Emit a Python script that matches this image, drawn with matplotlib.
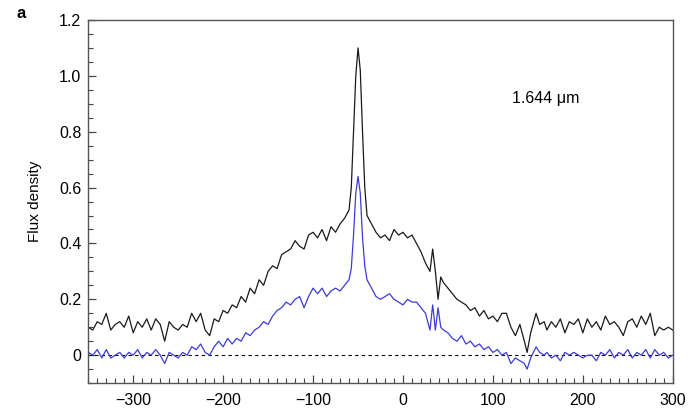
import numpy as np
import matplotlib.pyplot as plt
from matplotlib.ticker import MultipleLocator

plt.rcParams['font.family'] = ['Liberation Sans', 'DejaVu Sans']
plt.rcParams['axes.unicode_minus'] = True

# velocity grid (km/s), finer sampling across the narrow core
velocity = [
    -350, -345, -340, -335, -330, -325, -320, -315, -310, -305,
    -300, -295, -290, -285, -280, -275, -270, -265, -260, -255,
    -250, -245, -240, -235, -230, -225, -220, -215, -210, -205,
    -200, -195, -190, -185, -180, -175, -170, -165, -160, -155,
    -150, -145, -140, -135, -130, -125, -120, -115, -110, -105,
    -100, -95, -90, -85, -80, -75, -70, -65, -60,
    -57.5, -55, -52.5, -50, -47.5, -45, -42.5,
    -40, -35, -30, -25, -20, -15, -10, -5, 0, 5, 10, 15, 20, 25, 30,
    33, 36, 39, 42,
    45, 50, 55, 60, 65, 70, 75, 80, 85, 90, 95, 100, 105, 110, 115, 120, 125, 130, 135,
    138, 142, 148, 152, 157,
    160, 165, 170, 175, 180, 185, 190, 195, 200, 205,
    210, 215, 220, 225, 230, 235, 240, 245, 250, 255,
    260, 265, 270, 275, 280, 285, 290, 295, 300,
]

# total line flux (black)
flux_total = [
    0.10, 0.09, 0.12, 0.11, 0.15, 0.09, 0.11, 0.12, 0.10, 0.14,
    0.08, 0.12, 0.10, 0.13, 0.09, 0.13, 0.11, 0.05, 0.12, 0.10,
    0.09, 0.11, 0.10, 0.15, 0.12, 0.15, 0.09, 0.07, 0.13, 0.12,
    0.16, 0.15, 0.18, 0.17, 0.21, 0.19, 0.24, 0.22, 0.27, 0.25,
    0.30, 0.32, 0.31, 0.36, 0.37, 0.38, 0.41, 0.39, 0.38, 0.43,
    0.44, 0.42, 0.45, 0.41, 0.46, 0.44, 0.47, 0.49, 0.52,
    0.60, 0.80, 1.00, 1.10, 1.02, 0.80, 0.60,
    0.50, 0.47, 0.44, 0.42, 0.43, 0.41, 0.45, 0.43, 0.44, 0.42, 0.43, 0.40, 0.37, 0.33, 0.30,
    0.38, 0.30, 0.20, 0.28,
    0.26, 0.24, 0.22, 0.20, 0.19, 0.18, 0.16, 0.17, 0.14, 0.16, 0.13, 0.14, 0.12, 0.15, 0.15, 0.10, 0.07, 0.11, 0.05,
    0.01, 0.08, 0.15, 0.11, 0.12,
    0.09, 0.12, 0.10, 0.13, 0.08, 0.12, 0.11, 0.13, 0.08, 0.13,
    0.10, 0.12, 0.09, 0.14, 0.11, 0.12, 0.10, 0.07, 0.12, 0.13,
    0.10, 0.14, 0.11, 0.15, 0.07, 0.10, 0.09, 0.10, 0.09,
]

# second component (blue)
flux_blue = [
    0.01, 0.00, 0.02, -0.01, 0.02, -0.01, 0.00, 0.01, -0.01, 0.01,
    0.00, 0.02, -0.01, 0.01, 0.00, 0.02, 0.00, -0.03, 0.01, 0.00,
    -0.01, 0.01, 0.00, 0.03, 0.02, 0.04, 0.01, 0.00, 0.03, 0.05,
    0.03, 0.06, 0.04, 0.06, 0.05, 0.08, 0.07, 0.09, 0.10, 0.12,
    0.11, 0.14, 0.16, 0.17, 0.19, 0.18, 0.20, 0.21, 0.17, 0.21,
    0.24, 0.22, 0.24, 0.21, 0.23, 0.24, 0.23, 0.25, 0.27,
    0.31, 0.43, 0.58, 0.64, 0.58, 0.42, 0.32,
    0.27, 0.24, 0.21, 0.20, 0.21, 0.22, 0.20, 0.19, 0.18, 0.20, 0.19, 0.19, 0.17, 0.15, 0.09,
    0.18, 0.09, 0.17, 0.10,
    0.09, 0.08, 0.06, 0.05, 0.07, 0.04, 0.05, 0.03, 0.04, 0.02, 0.03, 0.01, 0.02, 0.00, 0.01, -0.03, -0.01, -0.02, -0.03,
    -0.05, -0.01, 0.03, 0.01, 0.00,
    0.01, -0.01, 0.00, -0.02, 0.01, 0.00, 0.01, 0.00, -0.01, 0.00,
    0.00, -0.02, 0.01, 0.00, 0.02, -0.01, 0.01, 0.00, 0.02, -0.01,
    0.01, 0.00, 0.02, -0.01, 0.02, 0.00, 0.01, -0.01, 0.00,
]

fig = plt.figure(figsize=(6.95, 4.08), dpi=100)
ax = fig.add_axes([0.127, 0.061, 0.841, 0.890])

ax.axhline(0, color='black', lw=0.8, ls=(0, (3, 3)))
ax.plot(velocity, flux_total, color='#1a1a1a', lw=0.9)
ax.plot(velocity, flux_blue, color='#3b3bd8', lw=0.9)

ax.set_xlim(-350, 300)
ax.set_ylim(-0.1, 1.2)
ax.xaxis.set_major_locator(MultipleLocator(100))
ax.xaxis.set_minor_locator(MultipleLocator(10))
ax.yaxis.set_major_locator(MultipleLocator(0.2))
ax.yaxis.set_minor_locator(MultipleLocator(0.05))
ax.yaxis.set_major_formatter(plt.FuncFormatter(lambda v, p: '0' if abs(v) < 1e-9 else f'{v:.1f}'))

ax.tick_params(which='both', direction='in', top=False, right=False,
               labelsize=11.5, color='#444444')
ax.tick_params(axis='x', pad=7)
ax.tick_params(axis='y', pad=5)
ax.tick_params(which='major', length=6, width=0.9)
ax.tick_params(which='minor', length=3.5, width=0.8)
for s in ax.spines.values():
    s.set_color('#555555')
    s.set_linewidth(1.0)

ax.set_ylabel('Flux density', fontsize=11, labelpad=12)
ax.text(121, 0.92, '1.644 μm', fontsize=11.5, ha='left', va='center')
fig.text(0.024, 0.968, 'a', fontsize=12, fontweight='bold', ha='left', va='center')

fig.savefig('out.png', dpi=100)
